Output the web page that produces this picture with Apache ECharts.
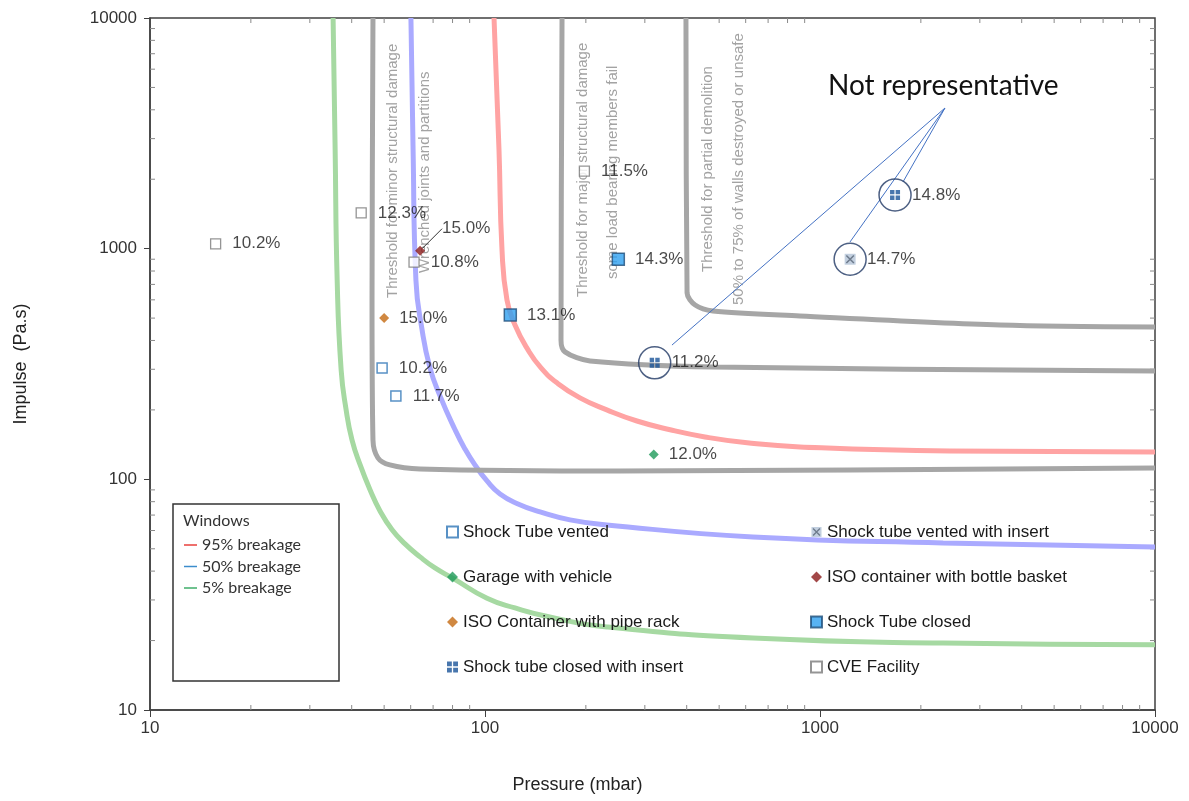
<!DOCTYPE html>
<html>
<head>
<meta charset="utf-8">
<title>Pressure-impulse diagram</title>
<script src="https://cdn.jsdelivr.net/npm/echarts@6/dist/echarts.min.js"></script>
<style>
  html, body { margin: 0; padding: 0; background: #fff; }
  #chart { width: 1189px; height: 801px; }
</style>
</head>
<body>
<div id="chart"></div>
<script>
// ---- Axis ticks ----
const majorTicks = [10, 100, 1000, 10000];
const minorTicks = [20, 30, 40, 50, 60, 70, 80, 90,
                    200, 300, 400, 500, 600, 700, 800, 900,
                    2000, 3000, 4000, 5000, 6000, 7000, 8000, 9000];

// ---- Window breakage P-I curves: [pressure (mbar), impulse (Pa.s)] ----
const breakage95 = [[106.4, 10000], [110.1, 2680], [112.4, 987], [116.3, 599], [122.9, 467], [134.4, 364],
                    [147, 304], [164, 262], [192.1, 225.4], [231, 200], [284.2, 179], [357, 164],
                    [453.6, 152.7], [606, 144], [871, 138.2], [2443, 132.8], [10000, 131.5]];
const breakage50 = [[60.1, 10000], [61.0, 2680], [62.2, 731], [64.9, 444], [68.5, 304], [73.4, 230],
                    [81.4, 164], [87.1, 135.5], [93.3, 115.5], [101.4, 98.4], [110.9, 86.4], [125.5, 78.2],
                    [146, 72.2], [179.4, 66.7], [231, 63.4], [631, 56.3], [2330, 53], [10000, 50.9]];
const breakage5 = [[35.2, 10000], [35.7, 2680], [36.2, 731], [37.2, 298], [38.5, 200], [40.1, 148],
                   [42.4, 115.5], [45.4, 89.9], [48.6, 72.9], [52.8, 60.4], [57.7, 52.5], [64.0, 46.1],
                   [70.9, 41.3], [80.3, 37.2], [101.4, 30.5], [122.9, 27.7], [156, 25.3], [231, 22.9],
                   [631, 20.5], [2330, 19.5], [10000, 19.2]];

// ---- Structural damage thresholds ----
const minorDamage = [[46.3, 10000], [46.0, 600], [46.3, 148], [47.9, 124], [52.0, 115.5], [64.0, 110.9],
                     [253, 108.7], [10000, 112]];
const majorDamage = [[169.8, 10000], [168.6, 402], [173.3, 357], [205.8, 326], [479, 307], [10000, 295]];
const partialDemolition = [[398, 10000], [401, 643], [424, 570], [479, 537], [871, 511], [3446, 467], [10000, 458]];

// ---- Test results: [pressure, impulse, label] ----
const shockTubeVented = [[49.3, 304, '10.2%'], [54.2, 230, '11.7%']];
const shockTubeVentedInsert = [[1230, 900, '14.7%']];
const garageVehicle = [[319, 128, '12.0%']];
const isoBottleBasket = [[64, 980, '15.0%']];
const isoPipeRack = [[50, 500, '15.0%']];
const shockTubeClosed = [[119, 516, '13.1%'], [250, 900, '14.3%']];
const shockTubeClosedInsert = [[321, 320, '11.2%'], [1675, 1710, '14.8%']];
const cveFacility = [[15.7, 1050, '10.2%'], [42.7, 1430, '12.3%'], [61.4, 875, '10.8%'], [198, 2170, '11.5%']];

// ---- "Not representative" callout ----
const circledPoints = [shockTubeClosedInsert[0], shockTubeClosedInsert[1], shockTubeVentedInsert[0]];
const arrowOrigin = [2360, 4070];
const arrowTips = [[361.5, 382], [1769, 1946], [1229, 1069]];

const FONT = 'Liberation Sans, Arial, sans-serif';
const CAL = 'Lato, Open Sans, sans-serif';

const xSquareSvg = "<svg xmlns='http://www.w3.org/2000/svg' width='24' height='24'>" +
  "<rect x='1' y='1' width='22' height='22' fill='#b3c4d8'/>" +
  "<path d='M4.5 4.5L19.5 19.5M19.5 4.5L4.5 19.5' stroke='#4b5b70' stroke-width='3'/></svg>";
const xSquareSymbol = 'image://data:image/svg+xml;charset=utf-8,' + encodeURIComponent(xSquareSvg);
const gridSymbol = 'path://M0,0H4.4V4.4H0Z M5.6,0H10V4.4H5.6Z M0,5.6H4.4V10H0Z M5.6,5.6H10V10H5.6Z';

function curve(name, data, color, smooth, z) {
  return {
    name, type: 'line', data, showSymbol: false, smooth, silent: true, z: z || 2,
    lineStyle: { color, width: 5 }, itemStyle: { color }
  };
}

function points(name, data, symbol, size, itemStyle, labelDist) {
  return {
    name, type: 'scatter', data, symbol, symbolSize: size, itemStyle, z: 6,
    label: {
      show: true, position: 'right', distance: labelDist,
      formatter: p => p.value[2], fontSize: 17, fontFamily: FONT, color: '#1a1a1a'
    }
  };
}

function tickSeries(axis) {
  const data = minorTicks.map(v => axis === 'x' ? [v, 10] : [10, v]);
  return {
    type: 'custom', data, silent: true, z: 1,
    renderItem: (params, api) => {
      const v = api.value(axis === 'x' ? 0 : 1);
      const style = { stroke: '#8a8a8a', lineWidth: 1 };
      if (axis === 'x') {
        const a = api.coord([v, 10]), b = api.coord([v, 10000]);
        return { type: 'group', children: [
          { type: 'line', shape: { x1: a[0], y1: a[1], x2: a[0], y2: a[1] - 5 }, style },
          { type: 'line', shape: { x1: b[0], y1: b[1], x2: b[0], y2: b[1] + 5 }, style }
        ]};
      }
      const a = api.coord([10, v]), b = api.coord([10000, v]);
      return { type: 'group', children: [
        { type: 'line', shape: { x1: a[0], y1: a[1], x2: a[0] + 5, y2: a[1] }, style },
        { type: 'line', shape: { x1: b[0], y1: b[1], x2: b[0] - 5, y2: b[1] }, style }
      ]};
    }
  };
}

const thresholdTexts = [
  { text: 'Threshold for minor structural damage', x: 393, y: 298 },
  { text: 'Wrenched joints and partitions', x: 425, y: 273 },
  { text: 'Threshold for major structural damage', x: 583, y: 297 },
  { text: 'some load bearing members fail', x: 613, y: 279 },
  { text: 'Threshold for partial demolition', x: 708, y: 272 },
  { text: '50% to 75% of walls destroyed or unsafe', x: 739, y: 305 }
];

const legendText = { fontSize: 17, fontFamily: FONT, color: '#1a1a1a', lineHeight: 20 };

const option = {
  animation: false,
  backgroundColor: '#fff',
  grid: { left: 150, right: 34, top: 18, bottom: 91, show: true, borderColor: '#404040', borderWidth: 1.5 },
  xAxis: {
    type: 'log', logBase: 10, min: 10, max: 10000,
    name: 'Pressure (mbar)', nameLocation: 'middle', nameGap: 66,
    nameTextStyle: { fontSize: 18, fontFamily: FONT, color: '#222', padding: [0, 150, 0, 0] },
    axisLine: { lineStyle: { color: '#404040', width: 1.5 } },
    axisTick: { length: 7, lineStyle: { color: '#404040' } },
    axisLabel: { fontSize: 17, fontFamily: FONT, color: '#333', margin: 10, formatter: v => String(v) },
    splitLine: { show: false }
  },
  yAxis: {
    type: 'log', logBase: 10, min: 10, max: 10000,
    name: 'Impulse  (Pa.s)', nameLocation: 'middle', nameGap: 120,
    nameTextStyle: { fontSize: 18, fontFamily: FONT, color: '#222' },
    axisLine: { lineStyle: { color: '#404040', width: 1.5 } },
    axisTick: { length: 6, lineStyle: { color: '#404040' } },
    axisLabel: { fontSize: 17, fontFamily: FONT, color: '#333', margin: 13, formatter: v => String(v) },
    splitLine: { show: false }
  },
  legend: [
    {
      orient: 'vertical', left: 446, top: 522, padding: 0, itemGap: 25, itemWidth: 11, itemHeight: 11,
      textStyle: legendText, selectedMode: false,
      data: ['Shock Tube vented', 'Garage with vehicle', 'ISO Container with pipe rack', 'Shock tube closed with insert']
    },
    {
      orient: 'vertical', left: 810, top: 522, padding: 0, itemGap: 25, itemWidth: 11, itemHeight: 11,
      textStyle: legendText, selectedMode: false,
      data: ['Shock tube vented with insert', 'ISO container with bottle basket', 'Shock Tube closed', 'CVE Facility']
    },
    {
      orient: 'vertical', left: 184, top: 535, padding: 0, itemGap: 1.5, itemWidth: 13, itemHeight: 1.5,
      icon: 'rect', selectedMode: false,
      textStyle: { fontSize: 16, fontFamily: CAL, color: '#333', lineHeight: 20 },
      data: [
        { name: '95% breakage', itemStyle: { color: '#e8403c' } },
        { name: '50% breakage', itemStyle: { color: '#3c8dcc' } },
        { name: '5% breakage', itemStyle: { color: '#3fae6a' } }
      ]
    }
  ],
  graphic: [
    { type: 'rect', shape: { x: 173, y: 504, width: 166, height: 177 }, style: { fill: '#fff', stroke: '#333', lineWidth: 1.5 }, z: 0 },
    { type: 'text', x: 183, y: 521, style: { text: 'Windows', font: '16px ' + CAL, fill: '#333', textVerticalAlign: 'middle' }, z: 10 },
    { type: 'text', x: 828, y: 86, style: { text: 'Not representative', font: '28px ' + CAL, fill: '#111', textVerticalAlign: 'middle' }, z: 10 }
  ].concat(thresholdTexts.map(t => ({
    type: 'text', x: t.x, y: t.y, rotation: Math.PI / 2, z: 4, silent: true,
    style: { text: t.text, font: '15px ' + FONT, fill: '#a3a3a3', textAlign: 'left', textVerticalAlign: 'middle' }
  }))),
  series: [
    tickSeries('x'),
    tickSeries('y'),
    curve('5% breakage', breakage5, '#a6d9a2', 0.5),
    curve('50% breakage', breakage50, '#aaaaff', 0.5),
    curve('95% breakage', breakage95, '#ffa3a3', 0.5),
    curve('Threshold for minor structural damage', minorDamage, '#a6a6a6', 0.3, 3),
    curve('Threshold for major structural damage', majorDamage, '#a6a6a6', 0.3, 3),
    curve('Threshold for partial demolition', partialDemolition, '#a6a6a6', 0.3, 3),
    points('Shock Tube vented', shockTubeVented, 'rect', 10,
      { color: '#fff', borderColor: '#2e75b6', borderWidth: 1.5 }, 11),
    points('Shock tube vented with insert', shockTubeVentedInsert, xSquareSymbol, 12, {}, 11),
    points('Garage with vehicle', garageVehicle, 'diamond', 10, { color: '#1f9a5a' }, 10),
    Object.assign(points('ISO container with bottle basket', isoBottleBasket, 'diamond', 10, { color: '#8b1a1a' }, 5), {
      labelLayout: { dx: 12, dy: -22 },
      labelLine: { show: true, length2: 0, lineStyle: { color: '#333', width: 1 } }
    }),
    points('ISO Container with pipe rack', isoPipeRack, 'diamond', 10, { color: '#c46a12' }, 10),
    points('Shock Tube closed', shockTubeClosed, 'rect', 12,
      { color: '#2ea0f0', borderColor: '#1f4e79', borderWidth: 1.5 }, 10),
    points('Shock tube closed with insert', shockTubeClosedInsert, gridSymbol, 10, { color: '#1a5499' }, 12),
    points('CVE Facility', cveFacility, 'rect', 10,
      { color: '#fff', borderColor: '#7a7a7a', borderWidth: 1.3 }, 11),
    {
      name: 'callout', type: 'scatter', data: circledPoints, symbol: 'circle', symbolSize: 32, silent: true, z: 5,
      itemStyle: { color: 'transparent', borderColor: '#203864', borderWidth: 1.5 },
      markLine: {
        silent: true, symbol: ['none', 'arrow'], symbolSize: [0, 10],
        lineStyle: { color: '#4472c4', width: 1, type: 'solid' },
        label: { show: false },
        data: arrowTips.map(t => [{ coord: arrowOrigin }, { coord: t }])
      }
    }
  ]
};

const chart = echarts.init(document.getElementById('chart'), null, { renderer: 'canvas' });
chart.setOption(option);
</script>
</body>
</html>
